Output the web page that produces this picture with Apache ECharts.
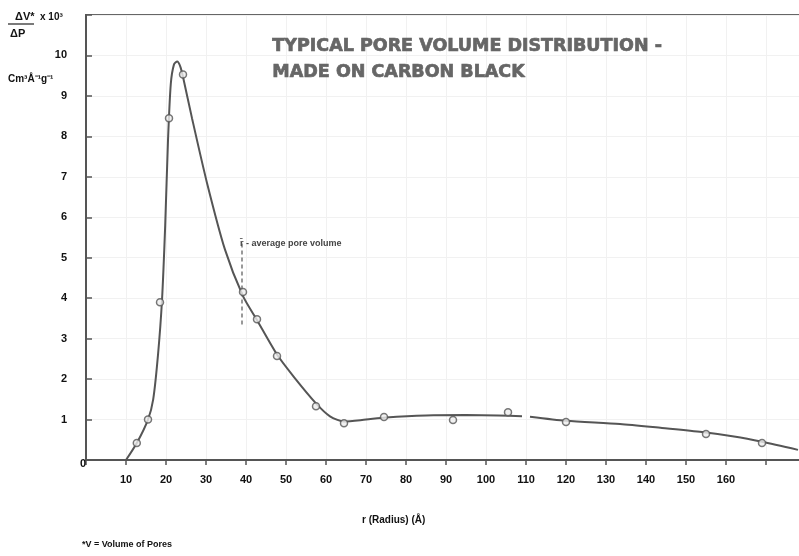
<!DOCTYPE html>
<html><head><meta charset="utf-8">
<script src="https://cdn.jsdelivr.net/npm/echarts@6/dist/echarts.min.js"></script>
<style>html,body{margin:0;padding:0;background:#fff}#c{width:799px;height:556px}</style>
</head><body><div id="c"></div>
<script>
// x tick values that carry labels
const xTickLabels = [10, 20, 30, 40, 50, 60, 70, 80, 90, 100, 110, 120, 130, 140, 150, 160];
const yTickLabels = [1, 2, 3, 4, 5, 6, 7, 8, 9, 10];

// measured points (hollow circles)
const pointX = [12.7, 15.5, 18.5, 20.75, 24.25, 39.25, 42.75, 47.75, 57.5, 64.5, 74.5, 91.75, 105.5, 120, 155, 169];
const pointY = [0.42, 1.0, 3.9, 8.45, 9.53, 4.15, 3.48, 2.57, 1.33, 0.91, 1.06, 0.99, 1.18, 0.94, 0.64, 0.42];

// fitted curve, first part (up to gap)
const curveAX = [10, 12.7, 15.5, 16.8, 18, 19, 19.8, 20.5, 21.2, 22, 22.8, 23.6, 24.3, 26.5, 30.25, 34.75, 39.25, 42.8, 47.8, 52, 57.5, 61, 64.5, 70, 75, 85, 95, 103, 109];
const curveAY = [0, 0.42, 1.0, 1.5, 2.6, 3.95, 5.8, 7.9, 9.3, 9.78, 9.85, 9.72, 9.45, 8.45, 6.85, 5.2, 4.05, 3.45, 2.6, 2.05, 1.4, 1.08, 0.95, 1.0, 1.05, 1.1, 1.11, 1.1, 1.08];
// fitted curve, second part (after gap)
const curveBX = [111, 120, 133.5, 144, 154, 162, 169, 178];
const curveBY = [1.07, 0.97, 0.89, 0.79, 0.69, 0.58, 0.45, 0.25];

// average pore radius marker
const avgX = [39, 39];
const avgY = [5.35, 3.34];

const zip = (a, b) => a.map((v, i) => [v, b[i]]);
const ink = '#555';
const bold = {fontFamily: 'Liberation Sans', fontWeight: 'bold', fill: '#111'};

const chart = echarts.init(document.getElementById('c'), null, {renderer: 'canvas'});
chart.setOption({
  backgroundColor: '#fff',
  animation: false,
  grid: {left: 86, right: -7, top: 15, bottom: 96, outerBoundsMode: 'none', containLabel: false,
         show: true, borderColor: '#666', borderWidth: 2, backgroundColor: 'transparent'},
  xAxis: {
    type: 'value', min: 0, max: 180, interval: 10,
    axisLine: {lineStyle: {color: '#555', width: 2}},
    axisTick: {show: true, length: 5, lineStyle: {color: '#555', width: 1.5}},
    axisLabel: {
      margin: 14, fontSize: 11, fontWeight: 'bold', color: '#111', fontFamily: 'Liberation Sans',
      formatter: v => xTickLabels.includes(v) ? String(v) : ''
    },
    splitLine: {show: true, lineStyle: {color: '#f1f1f1', width: 1}}
  },
  yAxis: {
    type: 'value', min: 0, max: 11, interval: 1,
    axisLine: {show: true, lineStyle: {color: '#555', width: 2}},
    axisTick: {show: true, inside: true, length: 6, lineStyle: {color: '#555', width: 1.5}},
    axisLabel: {
      margin: 19, fontSize: 11, fontWeight: 'bold', color: '#111', fontFamily: 'Liberation Sans',
      formatter: v => yTickLabels.includes(v) ? String(v) : ''
    },
    splitLine: {show: true, lineStyle: {color: '#f1f1f1', width: 1}}
  },
  series: [
    {type: 'line', data: zip(curveAX, curveAY), smooth: 0.25, showSymbol: false, lineStyle: {color: ink, width: 2}, z: 3},
    {type: 'line', data: zip(curveBX, curveBY), smooth: 0.25, showSymbol: false, lineStyle: {color: ink, width: 2}, z: 3},
    {type: 'line', data: zip(avgX, avgY), showSymbol: false, lineStyle: {color: '#777', width: 1.5, type: [4, 3]}, z: 2},
    {type: 'scatter', data: zip(pointX, pointY), symbol: 'circle', symbolSize: 7,
     itemStyle: {color: '#eee', borderColor: ink, borderWidth: 1.5}, z: 4}
  ],
  graphic: {elements: [
    {type: 'text', z: 100, left: 272, top: 37, style: {text: 'TYPICAL PORE VOLUME DISTRIBUTION -', font: 'bold 17.5px "DejaVu Sans"', fill: '#666', stroke: '#666', lineWidth: 0.7}},
    {type: 'text', z: 100, left: 272, top: 63, style: {text: 'MADE ON CARBON BLACK', font: 'bold 17.5px "DejaVu Sans"', fill: '#666', stroke: '#666', lineWidth: 0.7}},
    {type: 'text', z: 100, left: 15, top: 11, style: Object.assign({text: 'ΔV*', fontSize: 11}, bold)},
    {type: 'line', z: 100, shape: {x1: 8, y1: 24, x2: 34, y2: 24}, style: {stroke: '#222', lineWidth: 1.2}},
    {type: 'text', z: 100, left: 10, top: 28, style: Object.assign({text: 'ΔP', fontSize: 11}, bold)},
    {type: 'text', z: 100, left: 40, top: 12, style: Object.assign({text: 'x 10³', fontSize: 10}, bold)},
    {type: 'text', z: 100, left: 8, top: 74, style: Object.assign({text: 'Cm³Å⁻¹g⁻¹', fontSize: 10}, bold)},
    {type: 'text', z: 100, left: 80, top: 458, style: Object.assign({text: '0', fontSize: 11}, bold)},
    {type: 'text', z: 100, left: 240, top: 239, style: {text: 'r\u0304 - average pore volume', font: 'bold 9px "Liberation Sans"', fill: '#444'}},
    {type: 'text', z: 100, left: 362, top: 515, style: Object.assign({text: 'r (Radius) (Å)', fontSize: 10}, bold)},
    {type: 'text', z: 100, left: 82, top: 540, style: Object.assign({text: '*V = Volume of Pores', fontSize: 9}, bold)}
  ]}
});
</script></body></html>
